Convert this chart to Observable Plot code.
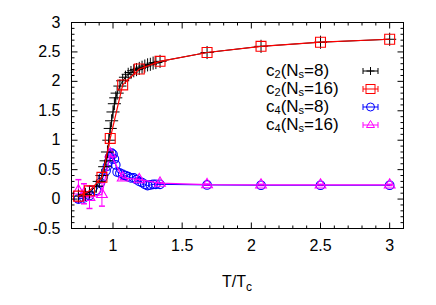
<!DOCTYPE html>
<html><head><meta charset="utf-8">
<script src="https://cdn.jsdelivr.net/npm/d3@7"></script>
<script src="https://cdn.jsdelivr.net/npm/@observablehq/plot@0.6"></script>
<style>
body{margin:0;background:#fff;font-family:"Liberation Sans",Arial,sans-serif;}
#wrap{position:relative;width:436px;height:305px;overflow:hidden;}
.row{position:absolute;left:266px;height:16px;font-size:17px;line-height:16px;white-space:nowrap;}
.row sub{font-size:11px;vertical-align:-2px;line-height:0;}
.sw{position:absolute;left:360px;width:22px;height:16px;}
#xl{position:absolute;left:0;width:474px;text-align:center;top:273px;font-size:16px;}
#xl sub{font-size:12px;vertical-align:-4px;line-height:0;}
</style></head><body><div id="wrap"></div>
<script>
// ---- data ----
const c2_8_T = [0.75,0.80,0.83,0.88,0.90,0.92,0.94,0.95,0.96,0.97,0.98,0.99,1.00,1.01,1.02,1.03,1.05,1.07,1.09,1.11,1.13,1.15,1.17,1.19,1.21,1.23,1.25,1.27,1.29,1.31,1.34,1.68,2.07,2.5,3.0];
const c2_8_v = [0.05,0.08,0.12,0.22,0.30,0.40,0.55,0.65,0.80,1.00,1.20,1.33,1.48,1.62,1.72,1.80,1.92,2.01,2.07,2.12,2.15,2.18,2.20,2.22,2.24,2.26,2.28,2.29,2.31,2.32,2.34,2.49,2.595,2.665,2.715];
const c2_16_T = [0.75,0.83,0.92,0.98,1.07,1.19,1.34,1.68,2.07,2.5,3.0];
const c2_16_v = [0.05,0.14,0.37,1.03,1.94,2.21,2.34,2.49,2.595,2.665,2.715];
const c4_8_T = [0.75,0.79,0.83,0.88,0.91,0.93,0.95,0.96,0.97,0.98,0.99,1.00,1.01,1.02,1.03,1.05,1.07,1.09,1.11,1.13,1.15,1.17,1.19,1.21,1.23,1.25,1.27,1.29,1.31,1.34,1.68,2.07,2.5,3.0];
const c4_8_v = [0.00,0.02,0.06,0.15,0.28,0.38,0.48,0.56,0.64,0.72,0.78,0.76,0.68,0.58,0.46,0.44,0.42,0.40,0.38,0.36,0.36,0.33,0.30,0.28,0.25,0.23,0.24,0.25,0.25,0.25,0.24,0.235,0.235,0.235];
const c4_16_T = [0.75,0.79,0.83,0.92,0.98,1.07,1.19,1.34,1.68,2.07,2.5,3.0];
const c4_16_v = [0.14,0.09,0.03,0.08,0.77,0.36,0.33,0.27,0.245,0.24,0.24,0.24];
const c4_16_e = [0.19,0.17,0.19,0.20,0.05,0.03,0.02,0.01,0.01,0.01,0.01,0.01];
const xTickLabels = [1,1.5,2,2.5,3];
const yTickLabels = [-0.5,0,0.5,1,1.5,2,2.5,3];
const seriesNames = ["c2(Ns=8)","c2(Ns=16)","c4(Ns=8)","c4(Ns=16)"];

// ---- helpers ----
const X0=0.7, X1=3.1, Y0=-0.5, Y1=3;
const zip = (T,V,E) => T.map((t,i)=>({T:t, v:V[i], e:E?E[i]:0}));
const d_c2_8 = zip(c2_8_T,c2_8_v), d_c2_16 = zip(c2_16_T,c2_16_v),
      d_c4_8 = zip(c4_8_T,c4_8_v), d_c4_16 = zip(c4_16_T,c4_16_v,c4_16_e);
const seg = (dx,dy,len)=>({draw(ctx){ctx.moveTo(0,0);ctx.lineTo(dx*len,dy*len);}});
const cap = (w)=>({draw(ctx){ctx.moveTo(-w,0);ctx.lineTo(w,0);}});
const xMinor = d3.range(8,31).map(d=>d/10).filter(d=>!xTickLabels.some(m=>Math.abs(m-d)<1e-9));
const yMinor = d3.range(-4,30).map(d=>d/10).filter(d=>!yTickLabels.some(m=>Math.abs(m-d)<1e-9));
const MAJ=6, MIN=3;
const tickMarks = [];
for (const [arr,len] of [[xTickLabels,MAJ],[xMinor,MIN]]) {
  tickMarks.push(Plot.dot(arr,{x:d=>d, y:()=>Y0, r:1, symbol:seg(0,-1,len), stroke:"black", strokeWidth:1}));
  tickMarks.push(Plot.dot(arr,{x:d=>d, y:()=>Y1, r:1, symbol:seg(0,1,len), stroke:"black", strokeWidth:1}));
}
for (const [arr,len] of [[yTickLabels,MAJ],[yMinor,MIN]]) {
  tickMarks.push(Plot.dot(arr,{y:d=>d, x:()=>X0, r:1, symbol:seg(1,0,len), stroke:"black", strokeWidth:1}));
  tickMarks.push(Plot.dot(arr,{y:d=>d, x:()=>X1, r:1, symbol:seg(-1,0,len), stroke:"black", strokeWidth:1}));
}
const BLACK="#000000", RED="#ff0000", BLUE="#0000ff", MAG="#ff00ff";

const chart = Plot.plot({
  width:436, height:305,
  marginLeft:71, marginRight:33, marginTop:22, marginBottom:77,
  x:{domain:[X0,X1], label:null},
  y:{domain:[Y0,Y1], label:null},
  style:{fontFamily:"'Liberation Sans',Arial,sans-serif", fontSize:"16px", background:"white", overflow:"visible"},
  marks:[
    Plot.ruleX(d_c4_16,{x:"T", y1:d=>d.v-d.e, y2:d=>d.v+d.e, stroke:MAG, strokeWidth:1}),
    Plot.dot(d_c4_16,{x:"T", y:d=>d.v-d.e, r:1, symbol:cap(3), stroke:MAG}),
    Plot.dot(d_c4_16,{x:"T", y:d=>d.v+d.e, r:1, symbol:cap(3), stroke:MAG}),
    Plot.line(d_c4_8,{x:"T", y:"v", stroke:BLUE, strokeWidth:1}),
    Plot.dot(d_c4_8,{x:"T", y:"v", symbol:"circle", r:4.3, stroke:BLUE, fill:"none", strokeWidth:1.1}),
    Plot.line(d_c4_16,{x:"T", y:"v", stroke:MAG, strokeWidth:1.2}),
    Plot.dot(d_c4_16,{x:"T", y:"v", symbol:"triangle", r:4, stroke:MAG, fill:"none", strokeWidth:1.1}),
    Plot.line(d_c2_8,{x:"T", y:"v", stroke:BLACK, strokeWidth:1}),
    Plot.dot(d_c2_8,{x:"T", y:"v", symbol:"plus", r:4.3, stroke:BLACK, fill:"none", strokeWidth:1}),
    Plot.line(d_c2_16,{x:"T", y:"v", stroke:RED, strokeWidth:1.2}),
    Plot.dot(d_c2_16,{x:"T", y:"v", symbol:"square", r:5.6, stroke:RED, fill:"none", strokeWidth:1.1}),
    ...tickMarks,
    Plot.frame({stroke:"black", strokeWidth:1}),
    Plot.axisX(xTickLabels,{tickSize:0, tickPadding:11, tickFormat:d=>String(d), fontSize:16}),
    Plot.axisY(yTickLabels,{tickSize:0, tickPadding:11, tickFormat:d=>String(d), fontSize:16})
  ]
});
const wrap = document.getElementById("wrap");
wrap.appendChild(chart);

const legColors=[BLACK,RED,BLUE,MAG];
const legSyms=[
  '<path d="M-4,0H4M0,-4V4"/>',
  '<rect x="-4.5" y="-4.5" width="9" height="9" fill="none"/>',
  '<circle r="4" fill="none"/>',
  '<path d="M0,-4.5L4,2.5H-4Z" fill="none"/>'
];
const rowsTop=[63,81,99,117];
seriesNames.forEach((name,i)=>{
  const m = name.match(/^c(\d)\(Ns=(\d+)\)$/);
  const r = document.createElement("div");
  r.className="row"; r.style.top=rowsTop[i]+"px";
  r.innerHTML = `c<sub>${m[1]}</sub>(N<sub>s</sub>=${m[2]})`;
  wrap.appendChild(r);
  const s = document.createElement("div");
  s.className="sw"; s.style.top=rowsTop[i]+"px";
  s.innerHTML = `<svg width="22" height="16"><g stroke="${legColors[i]}" stroke-width="1" fill="none"><path d="M3,8H18M3,5V11M18,5V11"/><g transform="translate(10.5,8)">${legSyms[i]}</g></g></svg>`;
  wrap.appendChild(s);
});
const xl=document.createElement("div"); xl.id="xl"; xl.innerHTML="T/T<sub>c</sub>"; wrap.appendChild(xl);
</script></body></html>
